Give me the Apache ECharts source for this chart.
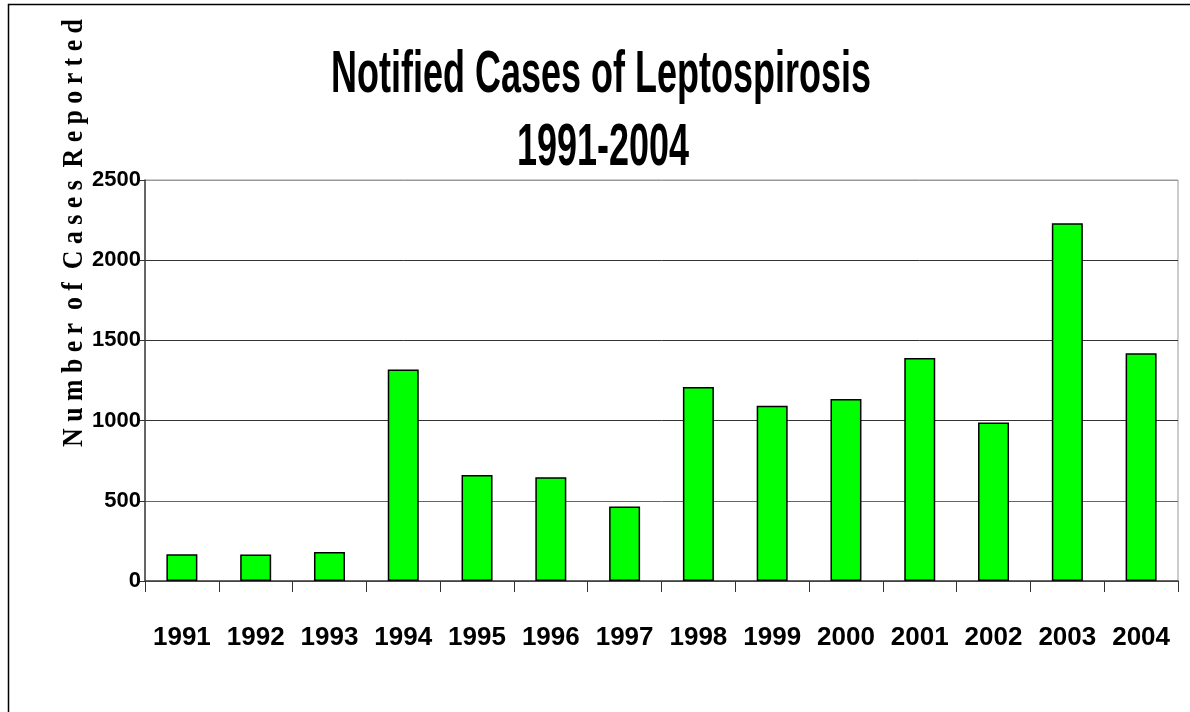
<!DOCTYPE html>
<html>
<head>
<meta charset="utf-8">
<script src="https://cdn.jsdelivr.net/npm/echarts@6/dist/echarts.min.js"></script>
<style>
  html, body { margin: 0; padding: 0; background: #fff; }
  #chart { width: 1190px; height: 712px; }
</style>
</head>
<body>
<div id="chart"></div>
<script>
const years = ['1991','1992','1993','1994','1995','1996','1997','1998','1999','2000','2001','2002','2003','2004'];
const cases = [166, 165, 181, 1319, 661, 647, 464, 1210, 1092, 1135, 1391, 988, 2230, 1420];
const titleLines = ['Notified Cases of Leptospirosis', '1991-2004'];
const yAxisTitle = 'N u m b e r  o f  C a s e s  R e p o r t e d';

const sans = "'Liberation Sans', Arial, sans-serif";

const chart = echarts.init(document.getElementById('chart'), null, { renderer: 'canvas' });
chart.setOption({
  backgroundColor: '#fff',
  animation: false,
  grid: { left: 145, right: 12, top: 180, bottom: 131, show: true, borderColor: '#999', borderWidth: 1 },
  xAxis: {
    type: 'category',
    data: years,
    axisLine: { lineStyle: { color: '#444', width: 1.5 } },
    axisTick: { show: true, alignWithLabel: false, interval: 0, length: 11, lineStyle: { color: '#333', width: 1 } },
    axisLabel: { interval: 0, color: '#000', fontFamily: sans, fontWeight: 'bold', fontSize: 26, margin: 44 }
  },
  yAxis: {
    type: 'value',
    min: 0, max: 2500, interval: 500,
    axisLine: { show: true, lineStyle: { color: '#444', width: 1.5 } },
    axisTick: { show: true, length: 7, lineStyle: { color: '#333' } },
    axisLabel: { color: '#000', fontFamily: sans, fontWeight: 'bold', fontSize: 22, margin: 4,
      formatter: function (v) { return String(v); } },
    splitLine: { show: true, lineStyle: { color: ['#444', '#666', '#333', '#333', '#333', '#999'], width: 1 } }
  },
  series: [{
    type: 'bar',
    data: cases,
    barWidth: '42%',
    itemStyle: { color: '#00ff00', borderColor: '#000', borderWidth: 1.5 }
  }],
  graphic: [
    { type: 'rect', silent: true, shape: { x: 8.5, y: 4.5, width: 1200, height: 720 },
      style: { fill: 'none', stroke: '#000', lineWidth: 1.5 } },
    { type: 'text', x: 601, y: 75, scaleX: 0.6,
      style: { text: titleLines[0], fontFamily: sans, fontWeight: 'bold', fontSize: 60,
        fill: '#000', textAlign: 'center', textVerticalAlign: 'middle' } },
    { type: 'text', x: 603, y: 148, scaleX: 0.6,
      style: { text: titleLines[1], fontFamily: sans, fontWeight: 'bold', fontSize: 60,
        fill: '#000', textAlign: 'center', textVerticalAlign: 'middle' } },
    { type: 'text', x: 74, y: 233, rotation: Math.PI / 2, scaleX: 0.86,
      style: { text: yAxisTitle, fontFamily: "'Liberation Serif', 'Times New Roman', serif", fontWeight: 'bold', fontSize: 30,
        fill: '#000', textAlign: 'center', textVerticalAlign: 'middle' } }
  ]
});
</script>
</body>
</html>
